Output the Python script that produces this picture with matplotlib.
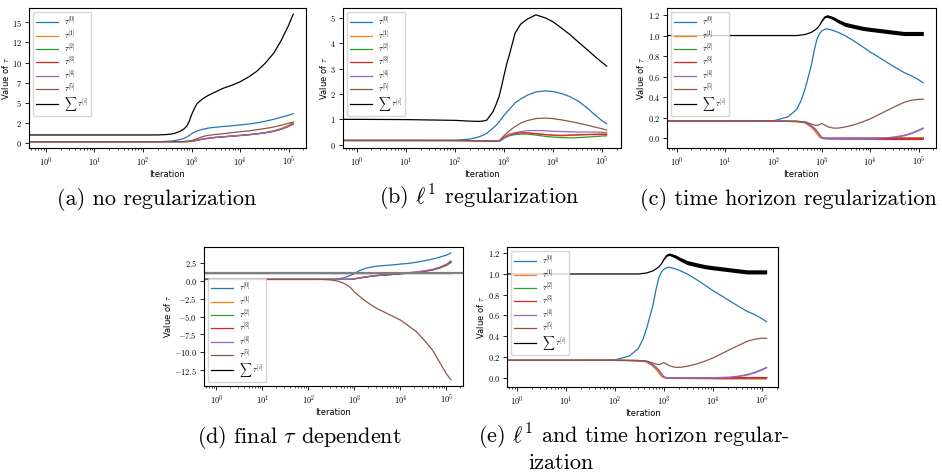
import matplotlib
matplotlib.use("Agg")
import matplotlib.pyplot as plt
from matplotlib.ticker import FuncFormatter, NullFormatter, LogLocator
import numpy as np

plt.rcParams['mathtext.fontset'] = 'cm'
plt.rcParams['font.family'] = 'DejaVu Sans'

# iteration grid shared by all panels
iters = [0.4, 1, 10, 100, 200, 300, 375, 450, 600, 700, 800, 900, 1000, 1150,
         1300, 1700, 2200, 3000, 4500, 7000, 1e4, 1.5e4, 2.2e4, 3.3e4, 5e4, 7e4,
         1e5, 1.25e5]

labels = [r'$\tau^{[0]}$', r'$\tau^{[1]}$', r'$\tau^{[2]}$', r'$\tau^{[3]}$',
          r'$\tau^{[4]}$', r'$\tau^{[5]}$', r'$\sum\,\tau^{[i]}$']
colors = ['tab:blue', 'tab:orange', 'tab:green', 'tab:red', 'tab:purple',
          'tab:brown', 'black']

# (a) no regularization
a_t0 = [0.167, 0.167, 0.167, 0.167, 0.17, 0.2, 0.24, 0.3, 0.45, 0.58, 0.75, 0.95, 1.15, 1.35,
        1.5, 1.7, 1.85, 1.95, 2.05, 2.15, 2.25, 2.35, 2.5, 2.7, 2.95, 3.2, 3.45, 3.65]
a_t1 = [0.167, 0.167, 0.167, 0.167, 0.167, 0.167, 0.167, 0.167, 0.167, 0.17, 0.18, 0.2, 0.22, 0.28,
        0.35, 0.5, 0.6, 0.7, 0.78, 0.88, 0.95, 1.05, 1.15, 1.3, 1.52, 1.8, 2.2, 2.55]
a_t2 = [0.167, 0.167, 0.167, 0.167, 0.167, 0.167, 0.167, 0.167, 0.167, 0.17, 0.18, 0.2, 0.22, 0.28,
        0.34, 0.48, 0.58, 0.68, 0.76, 0.86, 0.93, 1.03, 1.13, 1.28, 1.48, 1.72, 2.1, 2.45]
a_t3 = [0.167, 0.167, 0.167, 0.167, 0.167, 0.167, 0.167, 0.167, 0.167, 0.17, 0.18, 0.2, 0.22, 0.28,
        0.34, 0.48, 0.58, 0.68, 0.76, 0.86, 0.93, 1.02, 1.12, 1.26, 1.45, 1.7, 2.05, 2.35]
a_t4 = [0.167, 0.167, 0.167, 0.167, 0.167, 0.167, 0.167, 0.167, 0.167, 0.17, 0.18, 0.2, 0.22, 0.28,
        0.35, 0.49, 0.59, 0.69, 0.77, 0.87, 0.94, 1.03, 1.13, 1.27, 1.46, 1.71, 2.08, 2.4]
a_t5 = [0.167, 0.167, 0.167, 0.167, 0.167, 0.167, 0.167, 0.167, 0.18, 0.2, 0.22, 0.26, 0.3, 0.42,
        0.55, 0.8, 0.95, 1.05, 1.15, 1.3, 1.4, 1.5, 1.65, 1.8, 2.0, 2.2, 2.45, 2.6]
a_sum = [1.0, 1.0, 1.0, 1.0, 1.0, 1.05, 1.1, 1.2, 1.5, 1.75, 2.1, 2.7, 3.5, 4.3,
         4.9, 5.5, 5.9, 6.3, 6.8, 7.2, 7.6, 8.2, 8.9, 9.9, 11.2, 12.7, 14.6, 16.0]

# (b) l1 regularization
b_t0 = [0.167, 0.167, 0.167, 0.17, 0.22, 0.3, 0.37, 0.45, 0.65, 0.77, 0.9, 1.03, 1.15, 1.28,
        1.4, 1.65, 1.8, 1.95, 2.08, 2.12, 2.1, 2.02, 1.9, 1.72, 1.45, 1.2, 0.95, 0.83]
b_t1 = [0.167, 0.167, 0.167, 0.165, 0.16, 0.155, 0.152, 0.15, 0.14, 0.14, 0.15, 0.22, 0.3, 0.37,
        0.42, 0.48, 0.49, 0.47, 0.44, 0.4, 0.37, 0.35, 0.36, 0.38, 0.4, 0.42, 0.43, 0.43]
b_t2 = [0.167, 0.167, 0.167, 0.165, 0.16, 0.155, 0.152, 0.15, 0.14, 0.14, 0.14, 0.19, 0.25, 0.31,
        0.35, 0.4, 0.42, 0.42, 0.38, 0.33, 0.3, 0.28, 0.27, 0.28, 0.3, 0.32, 0.34, 0.35]
b_t3 = [0.167, 0.167, 0.167, 0.165, 0.16, 0.155, 0.152, 0.15, 0.14, 0.14, 0.14, 0.2, 0.27, 0.33,
        0.38, 0.44, 0.46, 0.46, 0.43, 0.4, 0.38, 0.37, 0.38, 0.39, 0.4, 0.4, 0.4, 0.4]
b_t4 = [0.167, 0.167, 0.167, 0.165, 0.16, 0.155, 0.152, 0.15, 0.14, 0.14, 0.14, 0.19, 0.25, 0.32,
        0.38, 0.47, 0.52, 0.55, 0.56, 0.55, 0.53, 0.52, 0.51, 0.5, 0.5, 0.5, 0.49, 0.48]
b_t5 = [0.167, 0.167, 0.167, 0.165, 0.16, 0.15, 0.145, 0.14, 0.13, 0.135, 0.15, 0.25, 0.35, 0.45,
        0.55, 0.72, 0.85, 0.95, 1.03, 1.05, 1.03, 0.98, 0.92, 0.85, 0.77, 0.7, 0.63, 0.58]
b_sum = [1.0, 1.0, 0.99, 0.96, 0.93, 0.92, 0.93, 0.97, 1.3, 1.6, 1.9, 2.3, 2.7, 3.2,
         3.55, 4.4, 4.75, 4.95, 5.12, 5.0, 4.85, 4.6, 4.35, 4.05, 3.75, 3.5, 3.25, 3.1]

# (c) time horizon regularization, (e) looks the same
c_t0 = [0.167, 0.167, 0.167, 0.17, 0.21, 0.28, 0.37, 0.48, 0.7, 0.86, 0.97, 1.02, 1.045, 1.06,
        1.065, 1.05, 1.03, 1.0, 0.95, 0.89, 0.84, 0.79, 0.74, 0.69, 0.64, 0.61, 0.57, 0.54]
c_t1 = [0.167, 0.167, 0.167, 0.166, 0.165, 0.16, 0.157, 0.15, 0.11, 0.075, 0.04, 0.01, 0.0, 0.0,
        0.0, 0.0, 0.0, 0.0, 0.0, 0.0, 0.0, 0.0, 0.0, 0.0, 0.0, 0.0, 0.0, 0.0]
c_t2 = [0.167, 0.167, 0.167, 0.167, 0.166, 0.165, 0.162, 0.155, 0.125, 0.1, 0.07, 0.035, 0.005, 0.0,
        0.0, 0.0, 0.0, 0.0, 0.0, 0.0, 0.0, 0.0, 0.0, 0.0, 0.0, 0.0, 0.0, 0.0]
c_t3 = [0.167, 0.167, 0.167, 0.167, 0.166, 0.165, 0.162, 0.155, 0.12, 0.095, 0.065, 0.033, 0.005, 0.0,
        0.0, 0.0, 0.0, 0.0, 0.0, 0.0, 0.0, 0.0, 0.0, 0.0, 0.0, 0.0, 0.0, 0.0]
c_t4 = [0.167, 0.167, 0.167, 0.167, 0.166, 0.165, 0.162, 0.155, 0.12, 0.092, 0.06, 0.03, 0.005, 0.0,
        0.0, 0.0, 0.0, 0.0, 0.0, 0.0, 0.0, 0.002, 0.005, 0.015, 0.03, 0.05, 0.08, 0.1]
c_t5 = [0.167, 0.167, 0.167, 0.167, 0.166, 0.165, 0.163, 0.16, 0.14, 0.13, 0.125, 0.135, 0.145, 0.13,
        0.115, 0.1, 0.1, 0.11, 0.13, 0.16, 0.19, 0.23, 0.27, 0.31, 0.35, 0.37, 0.38, 0.38]
c_sum = [1.0, 1.0, 1.0, 1.0, 1.0, 1.0, 1.005, 1.01, 1.03, 1.05, 1.07, 1.1, 1.14, 1.18,
         1.19, 1.17, 1.14, 1.11, 1.09, 1.07, 1.06, 1.05, 1.04, 1.03, 1.02, 1.02, 1.02, 1.02]
# spread of the noisy traces (half width of the band)
c_sum_spread = [0, 0, 0, 0, 0, 0, 0, 0, 0, 0, 0, 0, 0.004, 0.008,
                0.012, 0.016, 0.018, 0.02, 0.02, 0.02, 0.02, 0.02, 0.02, 0.02, 0.02, 0.02, 0.02, 0.02]
c_t3_spread = [0, 0, 0, 0, 0, 0, 0, 0, 0, 0, 0, 0, 0, 0.003,
               0.004, 0.005, 0.006, 0.008, 0.009, 0.01, 0.011, 0.012, 0.012, 0.012, 0.012, 0.012, 0.012, 0.012]
c_t4_spread = [0, 0, 0, 0, 0, 0, 0, 0, 0, 0, 0, 0, 0.004, 0.007,
               0.008, 0.009, 0.009, 0.009, 0.009, 0.009, 0.008, 0.007, 0.006, 0.006, 0.006, 0.006, 0.006, 0.006]

# (d) final tau dependent
d_t0 = [0.167, 0.167, 0.167, 0.167, 0.17, 0.18, 0.2, 0.25, 0.4, 0.55, 0.7, 0.85, 1.0, 1.2,
        1.4, 1.7, 1.85, 2.0, 2.1, 2.2, 2.3, 2.4, 2.55, 2.75, 3.0, 3.25, 3.55, 3.85]
d_t1 = [0.167, 0.167, 0.167, 0.167, 0.167, 0.167, 0.167, 0.167, 0.17, 0.175, 0.18, 0.21, 0.25, 0.31,
        0.37, 0.5, 0.6, 0.7, 0.78, 0.88, 0.97, 1.07, 1.18, 1.32, 1.52, 1.8, 2.2, 2.6]
d_t2 = [0.167, 0.167, 0.167, 0.167, 0.167, 0.167, 0.167, 0.167, 0.17, 0.175, 0.18, 0.2, 0.24, 0.3,
        0.35, 0.48, 0.58, 0.68, 0.76, 0.86, 0.94, 1.04, 1.14, 1.28, 1.47, 1.72, 2.1, 2.5]
d_t3 = [0.167, 0.167, 0.167, 0.167, 0.167, 0.167, 0.167, 0.167, 0.17, 0.175, 0.18, 0.21, 0.25, 0.31,
        0.36, 0.49, 0.59, 0.69, 0.77, 0.87, 0.96, 1.06, 1.16, 1.3, 1.5, 1.78, 2.2, 2.65]
d_t4 = [0.167, 0.167, 0.167, 0.167, 0.167, 0.167, 0.167, 0.167, 0.17, 0.18, 0.19, 0.22, 0.27, 0.33,
        0.39, 0.52, 0.62, 0.72, 0.8, 0.9, 1.0, 1.1, 1.22, 1.36, 1.57, 1.85, 2.28, 2.75]
d_t5 = [0.167, 0.167, 0.167, 0.167, 0.167, 0.1, 0.0, -0.1, -0.4, -0.65, -0.9, -1.25, -1.6, -1.9,
        -2.2, -2.8, -3.3, -3.85, -4.4, -5.0, -5.5, -6.3, -7.1, -8.3, -9.7, -11.3, -13.0, -13.8]
d_sum = [1.0] * len(iters)

W, H = 942, 474
fig = plt.figure(figsize=(W / 100, H / 100), dpi=100)


def make_axes(l, t, r, b):
    return fig.add_axes([l / W, 1 - b / H, (r - l) / W, (b - t) / H])


def log_label(v, pos):
    return r'$10^{%d}$' % int(round(np.log10(v)))


def draw_panel(ax, series, xlog, ylim, yfmt, loc='upper left', spread=None):
    for vals, col, lab in zip(series, colors, labels):
        ax.plot(iters, vals, color=col, lw=0.9, label=lab)
    if spread:
        for k, sp in spread.items():
            mid = np.array(series[k])
            sp = np.array(sp)
            ax.fill_between(iters, mid - sp, mid + sp, color=colors[k], lw=0)
    ax.set_xscale('log')
    ax.set_xlim(10 ** xlog[0], 10 ** xlog[1])
    ax.set_ylim(*ylim)
    ax.xaxis.set_major_locator(LogLocator(base=10, numticks=10))
    ax.xaxis.set_major_formatter(FuncFormatter(log_label))
    ax.xaxis.set_minor_formatter(NullFormatter())
    ax.yaxis.set_major_formatter(FuncFormatter(lambda v, p: '$' + yfmt % v + '$'))
    ax.tick_params(labelsize=6, length=3, width=0.6, pad=2)
    ax.tick_params(which='minor', length=1.6, width=0.5)
    ax.set_xlabel('Iteration', fontsize=6, labelpad=1.5)
    ax.set_ylabel(r'Value of $\tau$', fontsize=6, labelpad=1)
    leg = ax.legend(loc=loc, fontsize=6, labelspacing=0.12, handlelength=2.6,
                    borderaxespad=0.5, handletextpad=0.8, borderpad=0.35)
    leg.set_zorder(5)


ax_a = make_axes(29, 8, 306, 148)
draw_panel(ax_a, [a_t0, a_t1, a_t2, a_t3, a_t4, a_t5, a_sum],
           (-0.35, 5.36), (-0.62, 16.77), '%d')

ax_b = make_axes(343, 8, 621, 148)
draw_panel(ax_b, [b_t0, b_t1, b_t2, b_t3, b_t4, b_t5, b_sum],
           (-0.28, 5.39), (-0.13, 5.39), '%d')

c_series = [c_t0, c_t1, c_t2, c_t3, c_t4, c_t5, c_sum]
c_spread = {6: c_sum_spread, 3: c_t3_spread, 4: c_t4_spread}
ax_c = make_axes(667, 8, 936, 148)
draw_panel(ax_c, c_series, (-0.2, 5.36), (-0.094, 1.268), '%.1f', spread=c_spread)

ax_d = make_axes(204, 247, 463, 386)
draw_panel(ax_d, [d_t0, d_t1, d_t2, d_t3, d_t4, d_t5, d_sum],
           (-0.27, 5.36), (-14.68, 4.68), '%.1f', loc='lower left')
ax_d.axhline(1.0, color='gray', lw=1.6)

ax_e = make_axes(507, 247, 778, 387)
draw_panel(ax_e, c_series, (-0.2, 5.33), (-0.09, 1.26), '%.1f', spread=c_spread)

cap = dict(fontsize=16, family='cmr10', va='baseline')
fig.text(157 / W, 1 - 205 / H, '(a) no regularization', ha='center', **cap)
fig.text(479 / W, 1 - 205 / H, r'(b) $\ell^1$ regularization', ha='center', **cap)
fig.text(788 / W, 1 - 205 / H, '(c) time horizon regularization', ha='center', **cap)
fig.text(299 / W, 1 - 443 / H, r'(d) final $\tau$ dependent', ha='center', **cap)
fig.text(478 / W, 1 - 443 / H, r'(e) $\ell^1$ and time horizon regular-', ha='left', **cap)
fig.text(528 / W, 1 - 469 / H, 'ization', ha='left', **cap)

fig.savefig('out.png', dpi=100)
